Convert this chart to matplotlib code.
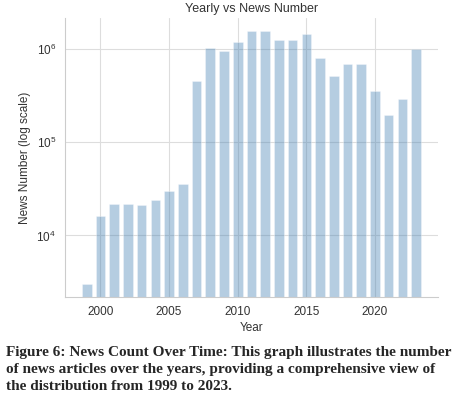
import matplotlib.pyplot as plt
import seaborn as sns

# yearly news counts
years = list(range(1999, 2024))
counts = [3000, 16000, 21700, 21800, 21300, 24200, 30300, 35800,
          457000, 1020000, 944000, 1190000, 1550000, 1570000, 1240000,
          1240000, 1460000, 807000, 514000, 690000, 690000, 357000,
          196000, 293000, 1000000]

title = "Yearly vs News Number"
caption = ("Figure 6: News Count Over Time: This graph illustrates the number\n"
           "of news articles over the years, providing a comprehensive view of\n"
           "the distribution from 1999 to 2023.")

sns.set_style("whitegrid")
plt.rcParams['font.family'] = ['Liberation Sans', 'DejaVu Sans']
plt.rcParams['mathtext.fontset'] = 'custom'
plt.rcParams['mathtext.rm'] = 'Liberation Sans'

fig = plt.figure(figsize=(4.59, 3.98), dpi=100)
ax = fig.add_axes([0.1416, 0.254, 0.8124, 0.701])

ax.bar(years, counts, width=0.7, color='steelblue', alpha=0.4, edgecolor='white', linewidth=0.5)
ax.set_yscale('log')
ax.set_title(title, fontsize=9, color='#333333', pad=4)
ax.set_xlabel("Year", fontsize=8.5, color='#333333', labelpad=3)
ax.set_ylabel("News Number (log scale)", fontsize=8.5, color='#333333')
ax.tick_params(labelsize=8.5, colors='#333333', pad=3)
ax.set_xticks([2000, 2005, 2010, 2015, 2020])
ax.minorticks_off()
ax.grid(color='#dddddd')
sns.despine(ax=ax)
for s in ['left', 'bottom']:
    ax.spines[s].set_color('#cccccc')

fig.text(0.012, 0.13, caption, fontsize=11, fontweight='bold',
         family='Liberation Serif', ha='left', va='top', linespacing=1.38)

fig.savefig("out.png", dpi=100)
